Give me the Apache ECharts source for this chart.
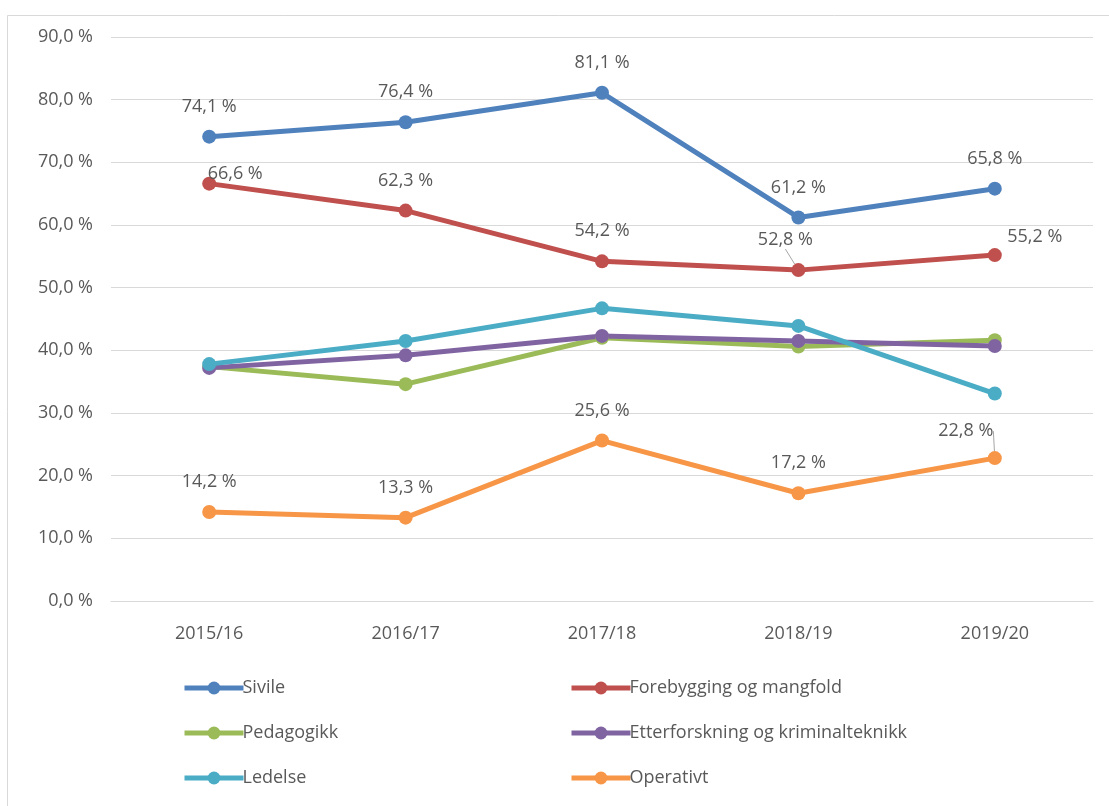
<!DOCTYPE html>
<html>
<head>
<meta charset="utf-8">
<script src="https://cdn.jsdelivr.net/npm/echarts@6/dist/echarts.min.js"></script>
<style>
  html, body { margin: 0; padding: 0; background: #fff; }
  #chart { width: 1109px; height: 806px; }
</style>
</head>
<body>
<div id="chart"></div>
<script>
// skoleår
const years = ['2015/16', '2016/17', '2017/18', '2018/19', '2019/20']
const yTicks = [0, 10, 20, 30, 40, 50, 60, 70, 80, 90]

const sivile = [74.1, 76.4, 81.1, 61.2, 65.8]
const forebygging = [66.6, 62.3, 54.2, 52.8, 55.2]
const pedagogikk = [37.4, 34.6, 42.0, 40.6, 41.6]
const etterforskning = [37.2, 39.2, 42.3, 41.5, 40.7]
const ledelse = [37.8, 41.5, 46.7, 43.9, 33.1]
const operativt = [14.2, 13.3, 25.6, 17.2, 22.8]

const fmt = v => v.toFixed(1).replace('.', ',') + ' %'
const font = '"Open Sans", "DejaVu Sans", sans-serif'
const textColor = '#595959'

// flytting av enkelte etiketter (dx, dy) + ledelinje
const shifts = {
  'Forebygging og mangfold': { 0: [26, 20], 3: [-13, 0, true], 4: [40, 12] },
  'Operativt': { 4: [-29, 3, true] }
}

const makeData = (name, values) => values.map((v, i) => {
  const s = (shifts[name] || {})[i]
  const item = { value: v }
  if (s && s[2]) {
    item.labelLine = { show: true, lineStyle: { color: '#a6a6a6', width: 1 } }
  }
  return item
})

const mkSeries = (name, values, color, withLabel) => ({
  name,
  type: 'line',
  data: makeData(name, values),
  symbol: 'circle',
  symbolSize: 14,
  lineStyle: { color, width: 5 },
  itemStyle: { color },
  label: {
    show: withLabel,
    position: 'top',
    distance: 14,
    formatter: p => fmt(p.value),
    color: textColor,
    fontFamily: font,
    fontSize: 18
  },
  labelLayout: params => {
    const s = (shifts[name] || {})[params.dataIndex]
    return s ? { dx: s[0], dy: s[1] } : {}
  },
  emphasis: { disabled: true },
  animation: false
})

const chart = echarts.init(document.getElementById('chart'))

const legendBase = {
  orient: 'vertical',
  itemWidth: 59,
  itemHeight: 16,
  itemGap: 27,
  lineStyle: { width: 5 },
  textStyle: { color: textColor, fontFamily: font, fontSize: 18, padding: [0, 0, 0, -6] }
}

chart.setOption({
  backgroundColor: '#fff',
  textStyle: { fontFamily: font },
  graphic: [{
    type: 'rect',
    shape: { x: 7.5, y: 15.5, width: 1120, height: 820 },
    style: { fill: 'none', stroke: '#d9d9d9', lineWidth: 1 },
    silent: true
  }],
  legend: [
    Object.assign({}, legendBase, { left: 177, top: 674, data: ['Sivile', 'Pedagogikk', 'Ledelse'] }),
    Object.assign({}, legendBase, { left: 564, top: 674, data: ['Forebygging og mangfold', 'Etterforskning og kriminalteknikk', 'Operativt'] })
  ],
  grid: { left: 111, right: 16, top: 37, bottom: 205 },
  xAxis: {
    type: 'category',
    data: years,
    boundaryGap: true,
    axisLine: { lineStyle: { color: '#d9d9d9', width: 1 } },
    axisTick: { show: false },
    axisLabel: { color: textColor, fontFamily: font, fontSize: 18, margin: 24 }
  },
  yAxis: {
    type: 'value',
    min: yTicks[0],
    max: yTicks[yTicks.length - 1],
    interval: 10,
    axisLine: { show: false },
    axisTick: { show: false },
    splitLine: { lineStyle: { color: '#d9d9d9', width: 1 } },
    axisLabel: { color: textColor, fontFamily: font, fontSize: 18, margin: 18, formatter: v => fmt(v) }
  },
  series: [
    mkSeries('Sivile', sivile, '#4F81BD', true),
    mkSeries('Forebygging og mangfold', forebygging, '#C0504D', true),
    mkSeries('Pedagogikk', pedagogikk, '#9BBB59', false),
    mkSeries('Etterforskning og kriminalteknikk', etterforskning, '#8064A2', false),
    mkSeries('Ledelse', ledelse, '#4BACC6', false),
    mkSeries('Operativt', operativt, '#F79646', true)
  ]
})

window.addEventListener('resize', () => chart.resize())
</script>
</body>
</html>
